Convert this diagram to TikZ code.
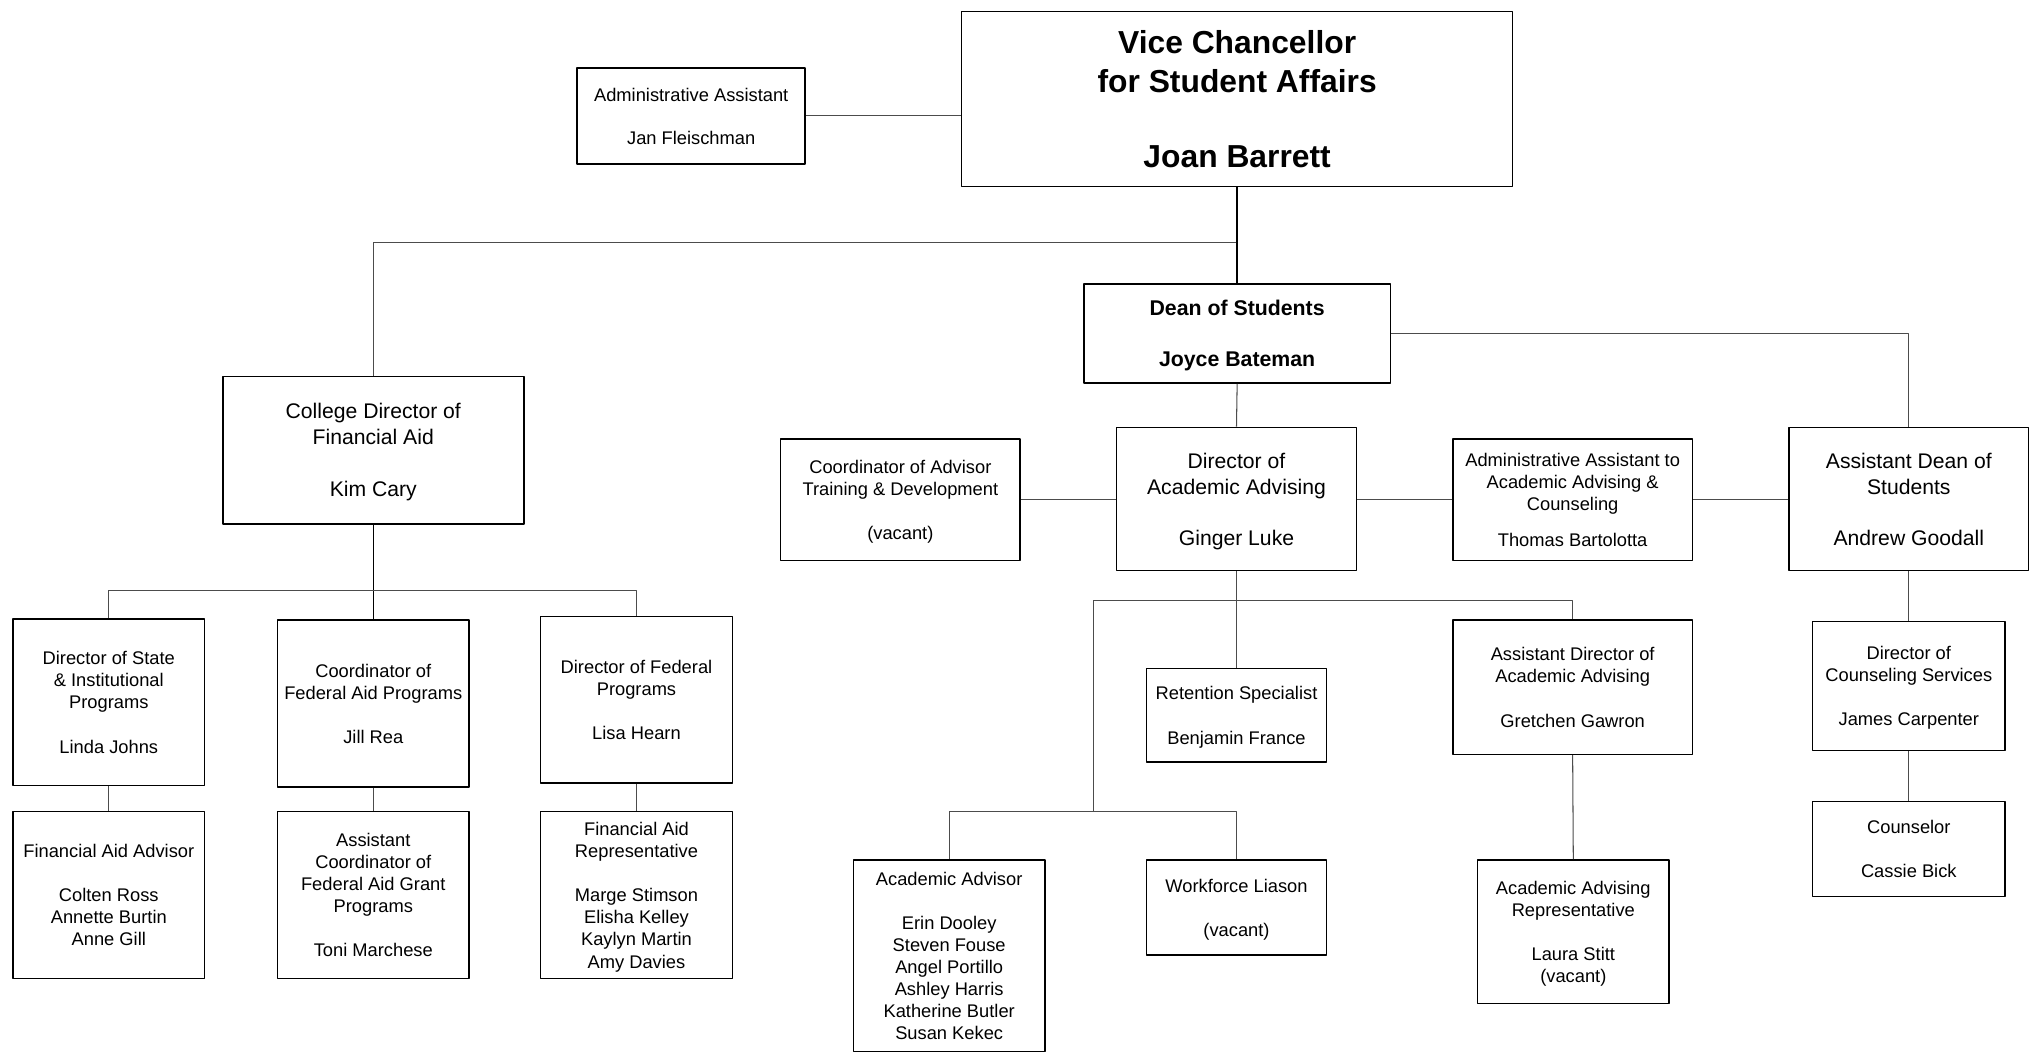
\documentclass[tikz,border=0pt]{standalone}
\usepackage{fontspec}
\setmainfont{Liberation Sans}
\tikzset{
  orgbox/.style={draw=black,line width=1.15bp,align=center,inner sep=0pt,text depth=0pt,font=\fontsize{14.1}{17}\selectfont},
  midbox/.style={orgbox,font=\fontsize{16.3}{20}\selectfont},
  topbox/.style={orgbox,font=\fontsize{24.5}{30}\selectfont\bfseries},
  deanbox/.style={orgbox,font=\fontsize{16.4}{20}\selectfont\bfseries},
  link/.style={draw=black!70,line width=0.8bp},
  trunk/.style={draw=black,line width=1.1bp},
}
\begin{document}
\begin{tikzpicture}[x=1bp,y=-1bp,line join=bevel,]
%%
\useasboundingbox (0,0) rectangle (1568,815);
\node (node_vc) at (949.5,76) [topbox,minimum width=423bp,minimum height=134bp] {Vice Chancellor\\for Student Affairs\\[28bp]Joan Barrett};
  \node (node_admin) at (530.5,89) [orgbox,minimum width=175bp,minimum height=74bp] {Administrative Assistant\\[16bp]Jan Fleischman};
  \node (node_dean) at (949.5,256) [deanbox,minimum width=235bp,minimum height=76bp] {Dean of Students\\[19bp]Joyce Bateman};
  \node (node_cdfa) at (286.5,345.5) [midbox,minimum width=231bp,minimum height=113bp] {College Director of\\Financial Aid\\[20bp]Kim Cary};
  \node (node_coordadv) at (691,383.5) [orgbox,minimum width=184bp,minimum height=93bp] {Coordinator of Advisor\\Training \& Development\\[17bp](vacant)};
  \node (node_diraa) at (949,383) [midbox,minimum width=184bp,minimum height=110bp] {Director of\\Academic Advising\\[19bp]Ginger Luke};
  \node (node_adminaa) at (1207,383.5) [orgbox,minimum width=184bp,minimum height=93bp] {Administrative Assistant to\\Academic Advising \&\\Counseling\\[11bp]Thomas Bartolotta};
  \node (node_asstdean) at (1465,383) [midbox,minimum width=184bp,minimum height=110bp] {Assistant Dean of\\Students\\[19bp]Andrew Goodall};
  \node (node_retspec) at (949,549) [orgbox,minimum width=138bp,minimum height=72bp] {Retention Specialist\\[17bp]Benjamin France};
  \node (node_asstdiraa) at (1207,527.5) [orgbox,minimum width=184bp,minimum height=103bp] {Assistant Director of\\Academic Advising\\[17bp]Gretchen Gawron};
  \node (node_acadadv) at (728.5,733.5) [orgbox,minimum width=147bp,minimum height=147bp] {Academic Advisor\\[17bp]Erin Dooley\\Steven Fouse\\Angel Portillo\\Ashley Harris\\Katherine Butler\\Susan Kekec};
  \node (node_workforce) at (949,696.5) [orgbox,minimum width=138bp,minimum height=73bp] {Workforce Liason\\[17bp](vacant)};
  \node (node_aarep) at (1207.5,715) [orgbox,minimum width=147bp,minimum height=110bp] {Academic Advising\\Representative\\[17bp]Laura Stitt\\(vacant)};
  \node (node_dircouns) at (1465,526.5) [orgbox,minimum width=148bp,minimum height=99bp] {Director of\\Counseling Services\\[17bp]James Carpenter};
  \node (node_counselor) at (1465,651.5) [orgbox,minimum width=148bp,minimum height=73bp] {Counselor\\[17bp]Cassie Bick};
  \node (node_dirstate) at (83.5,539) [orgbox,minimum width=147bp,minimum height=128bp] {Director of State\\\& Institutional\\Programs\\[17bp]Linda Johns};
  \node (node_coordfed) at (286.5,540) [orgbox,minimum width=147bp,minimum height=128bp] {Coordinator of\\Federal Aid Programs\\[17bp]Jill Rea};
  \node (node_dirfed) at (488.5,537) [orgbox,minimum width=147bp,minimum height=128bp] {Director of Federal\\Programs\\[17bp]Lisa Hearn};
  \node (node_faadv) at (83.5,687) [orgbox,minimum width=147bp,minimum height=128bp] {Financial Aid Advisor\\[17bp]Colten Ross\\Annette Burtin\\Anne Gill};
  \node (node_asstcoord) at (286.5,687) [orgbox,minimum width=147bp,minimum height=128bp] {Assistant\\Coordinator of\\Federal Aid Grant\\Programs\\[17bp]Toni Marchese};
  \node (node_farep) at (488.5,687) [orgbox,minimum width=147bp,minimum height=128bp] {Financial Aid\\Representative\\[17bp]Marge Stimson\\Elisha Kelley\\Kaylyn Martin\\Amy Davies};
%
\coordinate (vc_bus) at (949.5,186);
  \coordinate (fa_bus) at (286.5,453);
  \coordinate (aa_bus) at (949,461);
  \coordinate (aa_split) at (839,623);
%
\draw [link] (node_admin.east) -- (node_admin.east -| node_vc.west);
  \draw [link] (vc_bus) -| (node_cdfa.north);
  \draw [trunk] (node_vc.south) -- (node_dean.north);
  \draw [link] (node_dean.east) -| (node_asstdean.north);
  \draw [link] (node_dean.south) -- (node_diraa.north);
  \draw [link] (node_coordadv.east) -- (node_coordadv.east -| node_diraa.west);
  \draw [link] (node_diraa.east) -- (node_diraa.east -| node_adminaa.west);
  \draw [link] (node_adminaa.east) -- (node_adminaa.east -| node_asstdean.west);
  \draw [link] (node_diraa.south) -- (node_retspec.north);
  \draw [link] (aa_bus) -| (node_asstdiraa.north);
  \draw [link] (aa_bus) -| (aa_split);
  \draw [link] (node_acadadv.north) |- (aa_split) -| (node_workforce.north);
  \draw [link] (node_asstdiraa.south) -- (node_aarep.north);
  \draw [link] (node_asstdean.south) -- (node_dircouns.north);
  \draw [link] (node_dircouns.south) -- (node_counselor.north);
  \draw [trunk] (node_cdfa.south) -- (node_coordfed.north);
  \draw [link] (node_dirstate.north) |- (fa_bus) -| (node_dirfed.north);
  \draw [link] (node_dirstate.south) -- (node_faadv.north);
  \draw [link] (node_coordfed.south) -- (node_asstcoord.north);
  \draw [link] (node_dirfed.south) -- (node_farep.north);
%
\end{tikzpicture}
\end{document}
